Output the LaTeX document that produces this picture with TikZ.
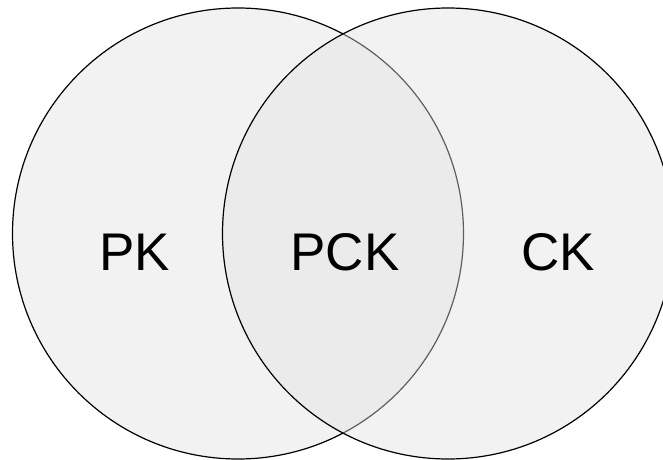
\documentclass[tikz,border=0pt]{standalone}
\usepackage{fontspec}
\setmainfont{Liberation Sans}
\begin{document}
\begin{tikzpicture}[x=1pt,y=1pt,
  setcircle/.style={draw=black,line width=1.2pt,fill={rgb,255:red,226;green,226;blue,226},fill opacity=0.42},
  label/.style={font=\fontsize{53}{60}\selectfont,text=black,inner sep=0pt,anchor=center}]
\useasboundingbox (0,0) rectangle (663,459);
\fill[white] (0,0) rectangle (663,459);
\node[setcircle,circle,minimum size=451pt,inner sep=0pt] (left) at (238,225.5) {};
\node[setcircle,circle,minimum size=451pt,inner sep=0pt] (right) at (448,225.5) {};
\node[label] (pk) at (134.5,207) {PK};
\node[label] (pck) at (345,207) {PCK};
\node[label] (ck) at (558,207) {CK};
\end{tikzpicture}
\end{document}
